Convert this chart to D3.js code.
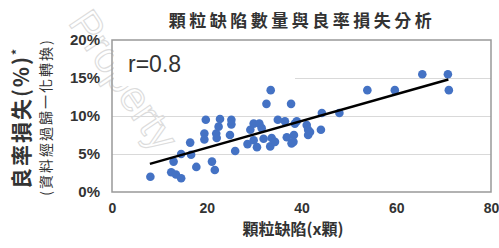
<!DOCTYPE html>
<html>
<head>
<meta charset="utf-8">
<script src="https://cdn.jsdelivr.net/npm/d3@7/dist/d3.min.js"></script>
<style>
  body { margin: 0; background: #fff; }
  svg { display: block; }
  .tick text { font-family: "Liberation Sans", Arial, sans-serif; font-weight: bold; fill: #333; }
  .cjk { font-family: "Noto Sans CJK TC", "Noto Sans CJK SC", sans-serif; }
</style>
</head>
<body>
<svg width="499" height="248"></svg>
<script>
// defect count (x) vs yield loss % (y)
const defects = [8.1, 12.5, 13.5, 14.6, 13.0, 14.6, 16.5, 16.7, 17.8, 19.8, 19.5, 19.5, 21.1, 21.7,
  22.0, 22.5, 22.8, 22.1, 25.2, 25.2, 24.9, 26.0, 28.6, 29.2, 29.9, 29.9, 30.6, 31.1, 31.6, 32.0,
  32.6, 33.5, 33.4, 33.7, 34.4, 35.0, 36.5, 36.9, 37.8, 37.9, 38.6, 39.0, 38.4, 38.3, 41.1, 41.4,
  41.4, 41.8, 44.3, 44.1, 48.0, 53.9, 59.7, 65.5, 70.9, 71.1];
const yieldLoss = [2.0, 2.6, 2.3, 1.8, 4.0, 5.0, 6.5, 4.9, 3.3, 9.5, 7.7, 6.9, 4.0, 2.9,
  7.7, 8.6, 9.6, 7.1, 9.5, 8.9, 7.5, 5.4, 6.3, 8.2, 9.0, 6.8, 5.9, 9.0, 8.4, 7.0,
  11.6, 13.4, 6.0, 7.1, 6.6, 9.5, 9.3, 7.2, 11.6, 6.4, 9.0, 9.3, 7.5, 6.6, 8.8, 8.2,
  7.5, 7.9, 10.4, 8.2, 10.4, 13.4, 13.4, 15.5, 15.5, 13.4];
// trend line end points
const trendX = [8, 71];
const trendY = [3.7, 14.8];
const xTicks = [0, 20, 40, 60, 80];
const yTicks = [0, 5, 10, 15, 20];

const svg = d3.select("svg");
const x = d3.scaleLinear().domain([0, 80]).range([112, 491]);
const y = d3.scaleLinear().domain([0, 20]).range([192, 40]);

// gridlines
svg.append("g").selectAll("line").data(yTicks.slice(1, -1)).join("line")
  .attr("x1", x(0)).attr("x2", x(80))
  .attr("y1", d => y(d) + 0.5).attr("y2", d => y(d) + 0.5)
  .attr("stroke", "#d9d9d9").attr("stroke-width", 1);

// watermark
svg.append("text")
  .attr("transform", "translate(124,80) rotate(56)")
  .attr("text-anchor", "middle").attr("dy", "0.35em")
  .style("font-family", "Liberation Sans, Arial, sans-serif")
  .style("font-size", "42px")
  .attr("fill", "none").attr("stroke", "#dcdcdc").attr("stroke-width", 1.1)
  .text("Property");

// box behind r label
svg.append("rect").attr("x", 114).attr("y", 46).attr("width", 181).attr("height", 40).attr("fill", "#fff");
svg.append("text").attr("x", 128).attr("y", 72)
  .style("font-family", "Liberation Sans, Arial, sans-serif").style("font-size", "23px")
  .attr("fill", "#333").text("r=0.8");

// plot border
svg.append("rect").attr("x", x(0)).attr("y", y(20))
  .attr("width", x(80) - x(0)).attr("height", y(0) - y(20))
  .attr("fill", "none").attr("stroke", "#999").attr("stroke-width", 1.5);

// points
const pts = defects.map((d, i) => [d, yieldLoss[i]]);
svg.append("g").selectAll("circle").data(pts).join("circle")
  .attr("cx", d => x(d[0])).attr("cy", d => y(d[1])).attr("r", 4.3)
  .attr("fill", "#4472c4");

// trend line
svg.append("line")
  .attr("x1", x(trendX[0])).attr("y1", y(trendY[0]))
  .attr("x2", x(trendX[1])).attr("y2", y(trendY[1]))
  .attr("stroke", "#000").attr("stroke-width", 2.5);

// axes
const yAxis = svg.append("g").attr("transform", "translate(100,0)")
  .call(d3.axisLeft(y).tickValues(yTicks).tickSize(0).tickPadding(0).tickFormat(d => d + "%"));
yAxis.select(".domain").remove();
yAxis.selectAll("text").style("font-size", "15px");

const xAxis = svg.append("g").attr("transform", "translate(0,203)")
  .call(d3.axisBottom(x).tickValues(xTicks).tickSize(0).tickPadding(0));
xAxis.select(".domain").remove();
xAxis.selectAll("text").style("font-size", "14px");

// title
svg.append("text").attr("class", "cjk").attr("x", 302).attr("y", 27)
  .attr("text-anchor", "middle").style("font-size", "17px").style("font-weight", "bold")
  .style("letter-spacing", "3.5px").attr("fill", "#333").text("顆粒缺陷數量與良率損失分析");

// x title
svg.append("text").attr("class", "cjk").attr("x", 293).attr("y", 235)
  .attr("text-anchor", "middle").style("font-size", "16px").style("font-weight", "bold")
  .attr("fill", "#333").text("顆粒缺陷(x顆)");

// y titles
svg.append("text").attr("class", "cjk").attr("transform", "translate(29,118) rotate(-90)")
  .attr("text-anchor", "middle").style("font-size", "21px").style("font-weight", "bold")
  .style("letter-spacing", "2px").attr("fill", "#333")
  .text("良率損失(%)")
  .append("tspan").attr("dy", "-8").style("font-size", "12px").text("*");
svg.append("text").attr("class", "cjk").attr("transform", "translate(51,117) rotate(-90)")
  .attr("text-anchor", "middle").style("font-size", "14px")
  .style("letter-spacing", "2px").attr("fill", "#333")
  .text("(資料經過歸一化轉換)");
</script>
</body>
</html>
